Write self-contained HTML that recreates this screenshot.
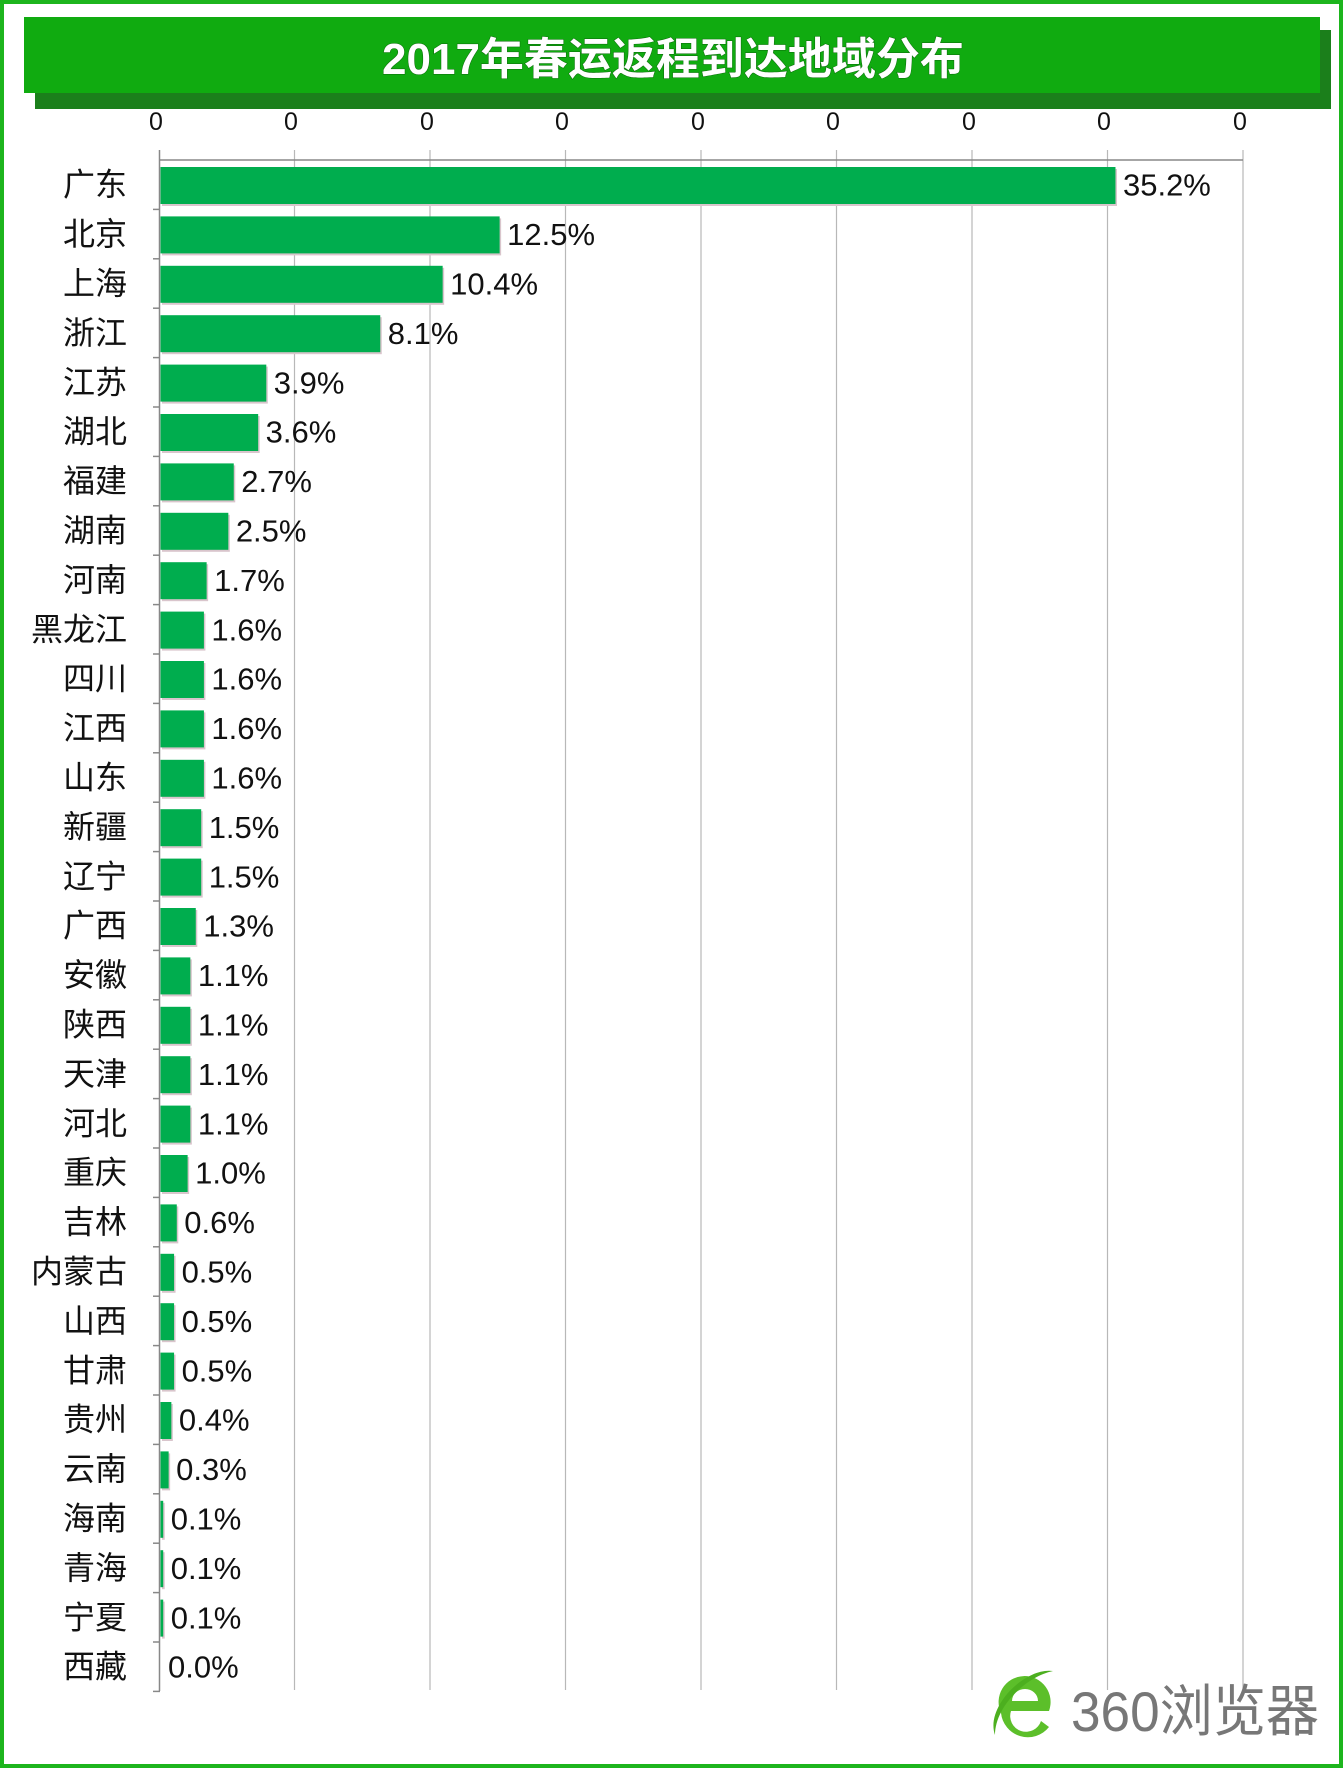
<!DOCTYPE html>
<html><head><meta charset="utf-8"><style>
html,body{margin:0;padding:0;background:#fff}
svg{display:block}
</style></head><body>
<svg width="1344" height="1769" viewBox="0 0 1344 1769" xmlns="http://www.w3.org/2000/svg">
<rect x="0" y="0" width="1344" height="1769" fill="#fff"/>
<rect x="2" y="2" width="1339" height="1764" fill="none" stroke="#1db51d" stroke-width="4"/>
<rect x="35" y="30" width="1296" height="79" fill="#1b7f1b"/>
<rect x="24" y="17" width="1296" height="76" fill="#10ab10"/>
<text x="673" y="74" text-anchor="middle" font-family="Liberation Sans, 'Noto Sans CJK SC', sans-serif" font-weight="bold" font-size="44" fill="#fff" style="paint-order:stroke" stroke="#0a6a0a" stroke-width="1">2017年春运返程到达地域分布</text>
<g stroke="#b8b8b8" stroke-width="1.2">
<line x1="294.5" y1="150" x2="294.5" y2="1690"/>
<line x1="430" y1="150" x2="430" y2="1690"/>
<line x1="565.5" y1="150" x2="565.5" y2="1690"/>
<line x1="701" y1="150" x2="701" y2="1690"/>
<line x1="836.5" y1="150" x2="836.5" y2="1690"/>
<line x1="972" y1="150" x2="972" y2="1690"/>
<line x1="1107.5" y1="150" x2="1107.5" y2="1690"/>
<line x1="1243" y1="150" x2="1243" y2="1690"/>
</g>
<line x1="159" y1="160" x2="1243" y2="160" stroke="#888" stroke-width="1.5"/>
<line x1="159.5" y1="150" x2="159.5" y2="1691" stroke="#888" stroke-width="1.5"/>
<g font-family="Liberation Sans, sans-serif" font-size="25" fill="#111" text-anchor="middle">
<text x="156" y="130">0</text><text x="291" y="130">0</text><text x="427" y="130">0</text><text x="562" y="130">0</text><text x="698" y="130">0</text><text x="833" y="130">0</text><text x="969" y="130">0</text><text x="1104" y="130">0</text><text x="1240" y="130">0</text>
</g>
<g id="rows"></g>
<g transform="translate(1025,1707)">
<ellipse cx="0" cy="0" rx="30" ry="34" fill="#fff"/>
<path d="M-24,6 A26,26 0 1 1 24,4 L-14,4 A14,14 0 0 0 16,14 L24,20 A27,27 0 0 1 -24,6 Z M-13,-6 L13,-6 A13,12 0 0 0 -13,-6 Z" fill="#5cbf2a"/>
<path d="M-30,28 C-40,0 0,-40 28,-36 C0,-30 -30,0 -30,28 Z" fill="#4caf1f"/>
</g>
<text x="1071" y="1731" font-family="Liberation Sans, 'Noto Sans CJK SC', sans-serif" font-size="56" fill="#777" textLength="248" lengthAdjust="spacingAndGlyphs">360浏览器</text>
</svg>
<script>
(function(){
var d=[["广东",35.2],["北京",12.5],["上海",10.4],["浙江",8.1],["江苏",3.9],["湖北",3.6],["福建",2.7],["湖南",2.5],["河南",1.7],["黑龙江",1.6],["四川",1.6],["江西",1.6],["山东",1.6],["新疆",1.5],["辽宁",1.5],["广西",1.3],["安徽",1.1],["陕西",1.1],["天津",1.1],["河北",1.1],["重庆",1.0],["吉林",0.6],["内蒙古",0.5],["山西",0.5],["甘肃",0.5],["贵州",0.4],["云南",0.3],["海南",0.1],["青海",0.1],["宁夏",0.1],["西藏",0.0]];
var g=document.getElementById("rows"),s="";
for(var i=0;i<d.length;i++){var ty=160+i*49.4,c=ty+24.7,w=d[i][1]>0?Math.max(d[i][1]*27.13,2):0;
s+='<line x1="153" y1="'+(ty+49.4)+'" x2="160" y2="'+(ty+49.4)+'" stroke="#888" stroke-width="1.5"/>';
if(w>0){s+='<rect x="162" y="'+(ty+9)+'" width="'+w+'" height="37" fill="#d9c5cc"/>';
s+='<rect x="160.5" y="'+(ty+7)+'" width="'+w+'" height="37" fill="#00ad4e"/>';}
s+='<text x="127" y="'+(c+11)+'" text-anchor="end" font-family="Liberation Sans, \'Noto Sans CJK SC\', sans-serif" font-size="32" fill="#111">'+d[i][0]+'</text>';
s+='<text x="'+(160+w+8)+'" y="'+(c+11)+'" font-family="Liberation Sans, sans-serif" font-size="31" fill="#111">'+d[i][1].toFixed(1)+'%</text>';}
g.innerHTML=s;
})();
</script>
</body></html>
